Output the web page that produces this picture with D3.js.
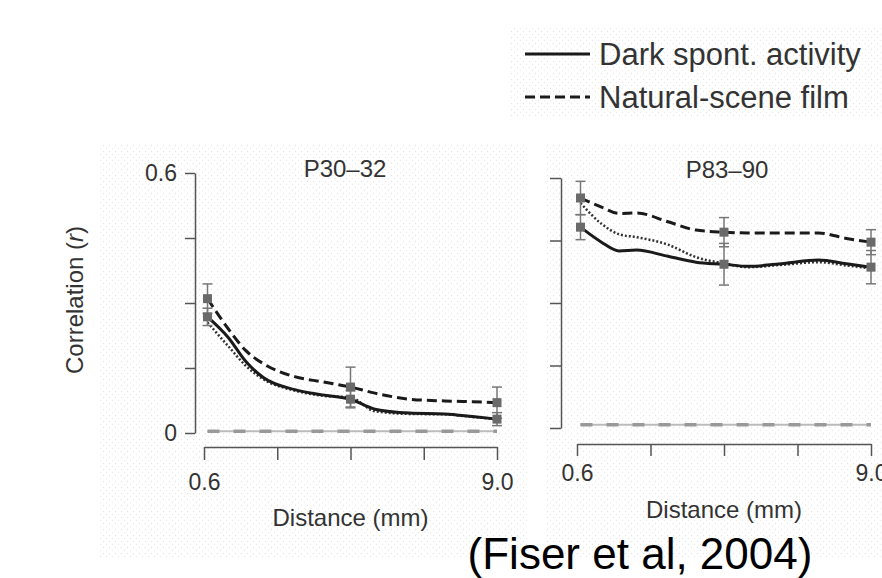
<!DOCTYPE html>
<html>
<head>
<meta charset="utf-8">
<script src="https://cdn.jsdelivr.net/npm/d3@7"></script>
<style>
  html, body { margin: 0; padding: 0; background: #fff; }
  svg { display: block; font-family: "Liberation Sans", Arial, Helvetica, sans-serif; }
</style>
</head>
<body>
<svg id="chart" width="882" height="578"></svg>
<script>
// distances (mm) where the curves were read
const distances = [0.7, 1.3, 1.8, 2.3, 3.2, 4.0, 4.8, 5.5, 6.5, 7.5, 8.3, 9.0];

// P30-32
const youngFilm  = [0.31, 0.24, 0.19, 0.16, 0.13, 0.118, 0.106, 0.092, 0.078, 0.074, 0.072, 0.07];
const youngDark  = [0.268, 0.22, 0.165, 0.128, 0.1, 0.088, 0.078, 0.055, 0.046, 0.044, 0.038, 0.032];
const youngDots  = [0.255, 0.2, 0.155, 0.124, 0.098, 0.086, 0.082, 0.05, 0.044, 0.043, 0.037, 0.032];
const youngBase  = 0.004;

// P83-90
const adultFilm  = [0.552, 0.53, 0.515, 0.516, 0.495, 0.475, 0.47, 0.468, 0.468, 0.468, 0.455, 0.446];
const adultDark  = [0.482, 0.446, 0.425, 0.427, 0.412, 0.398, 0.393, 0.388, 0.395, 0.403, 0.394, 0.386];
const adultDots  = [0.54, 0.49, 0.465, 0.458, 0.44, 0.41, 0.395, 0.386, 0.392, 0.398, 0.39, 0.383];
const adultBase  = 0.008;

// markers with error bars: [distance, value, error]
const youngFilmErr = [[0.7, 0.31, 0.034], [4.8, 0.106, 0.046], [9.0, 0.07, 0.036]];
const youngDarkErr = [[0.7, 0.268, 0.02], [4.8, 0.078, 0.02], [9.0, 0.032, 0.015]];
const adultFilmErr = [[0.7, 0.552, 0.04], [4.8, 0.47, 0.035], [9.0, 0.446, 0.03]];
const adultDarkErr = [[0.7, 0.482, 0.03], [4.8, 0.393, 0.05], [9.0, 0.386, 0.04]];

const xTicks = [0.6, 2.7, 4.8, 6.9, 9.0];
const yTicks = [0, 0.15, 0.3, 0.45, 0.6];

const svg = d3.select("#chart");

// faint halftone dots behind the panels
const defs = svg.append("defs");
const pat = defs.append("pattern").attr("id", "dots")
  .attr("width", 6).attr("height", 6).attr("patternUnits", "userSpaceOnUse");
pat.append("circle").attr("cx", 1.5).attr("cy", 1.5).attr("r", 0.7).attr("fill", "#e4e4e4");
pat.append("circle").attr("cx", 4.5).attr("cy", 4.5).attr("r", 0.7).attr("fill", "#eaeaea");
svg.append("rect").attr("x", 100).attr("y", 143).attr("width", 428).attr("height", 415).attr("fill", "url(#dots)");
svg.append("rect").attr("x", 545).attr("y", 143).attr("width", 337).attr("height", 415).attr("fill", "url(#dots)");
svg.append("rect").attr("x", 510).attr("y", 28).attr("width", 372).attr("height", 90).attr("fill", "url(#dots)");

const textCol = "#333";
const axisCol = "#555";

function drawPanel(opt) {
  const x = d3.scaleLinear().domain([0.6, 9.0]).range([opt.x0, opt.x1]);
  const y = d3.scaleLinear().domain([0, 0.6]).range([opt.y0, opt.y1]);
  const g = svg.append("g");

  // y axis
  const yAxis = d3.axisLeft(y).tickValues(yTicks).tickSize(opt.ytick).tickSizeOuter(0)
    .tickFormat(d => opt.yLabels ? (d === 0 ? "0" : d === 0.6 ? "0.6" : "") : "");
  const ya = g.append("g").attr("transform", `translate(${opt.yAxisX},0)`).call(yAxis);
  ya.select(".domain").attr("stroke", axisCol).attr("stroke-width", 1.5);
  ya.selectAll(".tick line").attr("stroke", axisCol).attr("stroke-width", 1.5);
  ya.selectAll(".tick text").attr("fill", textCol).style("font-size", "23px").attr("x", -opt.ytick - 8);

  // x axis
  const xAxis = d3.axisBottom(x).tickValues(xTicks).tickSize(opt.xtick).tickSizeOuter(0)
    .tickFormat(d => (d === 0.6 || d === 9.0) ? d.toFixed(1) : "");
  const xa = g.append("g").attr("transform", `translate(0,${opt.xAxisY})`).call(xAxis);
  xa.select(".domain").attr("stroke", axisCol).attr("stroke-width", 1.5);
  xa.selectAll(".tick line").attr("stroke", axisCol).attr("stroke-width", 1.5);
  xa.selectAll(".tick text").attr("fill", textCol).style("font-size", "23px").attr("y", opt.xLabelDy);

  g.append("text").attr("x", (opt.x0 + opt.x1) / 2).attr("y", opt.xTitleY)
    .attr("text-anchor", "middle").attr("fill", textCol).style("font-size", "24px")
    .text("Distance (mm)");
  g.append("text").attr("x", opt.titleX).attr("y", opt.titleY)
    .attr("text-anchor", "middle").attr("fill", textCol).style("font-size", "24px")
    .text(opt.title);

  // near-zero control lines
  const base = d3.line().x(d => x(d)).y(() => y(opt.base));
  g.append("path").attr("d", base(distances))
    .attr("fill", "none").attr("stroke", "#bbb").attr("stroke-width", 2);
  g.append("path").attr("d", base(distances))
    .attr("fill", "none").attr("stroke", "#999").attr("stroke-width", 3.5).attr("stroke-dasharray", "12 14");

  const line = d3.line().curve(d3.curveMonotoneX).x((d, i) => x(distances[i])).y(d => y(d));
  g.append("path").attr("d", line(opt.dots)).attr("fill", "none")
    .attr("stroke", "#333").attr("stroke-width", 2.5).attr("stroke-dasharray", "2 2");
  g.append("path").attr("d", line(opt.dark)).attr("fill", "none")
    .attr("stroke", "#1a1a1a").attr("stroke-width", 3);
  g.append("path").attr("d", line(opt.film)).attr("fill", "none")
    .attr("stroke", "#1a1a1a").attr("stroke-width", 3).attr("stroke-dasharray", "10 5");

  // markers + error bars
  const errs = opt.filmErr.concat(opt.darkErr);
  const eg = g.append("g").attr("stroke", "#777").attr("stroke-width", 1.5);
  errs.forEach(([d, v, e]) => {
    eg.append("line").attr("x1", x(d)).attr("x2", x(d)).attr("y1", y(v + e)).attr("y2", y(v - e));
    eg.append("line").attr("x1", x(d) - 5).attr("x2", x(d) + 5).attr("y1", y(v + e)).attr("y2", y(v + e));
    eg.append("line").attr("x1", x(d) - 5).attr("x2", x(d) + 5).attr("y1", y(v - e)).attr("y2", y(v - e));
  });
  g.selectAll("rect.mk").data(errs).enter().append("rect").attr("class", "mk")
    .attr("x", d => x(d[0]) - 4.5).attr("y", d => y(d[1]) - 4.5)
    .attr("width", 9).attr("height", 9).attr("fill", "#6a6a6a");
}

drawPanel({
  x0: 204, x1: 497, y0: 433, y1: 173, yAxisX: 195, xAxisY: 447,
  ytick: 10, xtick: 13, yLabels: true, xTitleY: 526, xLabelDy: 27,
  title: "P30\u201332", titleX: 345, titleY: 177,
  film: youngFilm, dark: youngDark, dots: youngDots, base: youngBase,
  filmErr: youngFilmErr, darkErr: youngDarkErr
});

drawPanel({
  x0: 577, x1: 871, y0: 428, y1: 178, yAxisX: 561, xAxisY: 444,
  ytick: 11, xtick: 12, yLabels: false, xTitleY: 518, xLabelDy: 21,
  title: "P83\u201390", titleX: 727, titleY: 178,
  film: adultFilm, dark: adultDark, dots: adultDots, base: adultBase,
  filmErr: adultFilmErr, darkErr: adultDarkErr
});

// y title
svg.append("text").attr("transform", "translate(83,300) rotate(-90)")
  .attr("text-anchor", "middle").attr("fill", textCol).style("font-size", "24px")
  .html('Correlation (<tspan font-style="italic">r</tspan>)');

// legend
const legendItems = ["Dark spont. activity", "Natural-scene film"];
const legendDash = [null, "10 5"];
const lg = svg.append("g");
legendItems.forEach((t, i) => {
  const yy = 54 + i * 43;
  lg.append("line").attr("x1", 525).attr("x2", 590).attr("y1", yy).attr("y2", yy)
    .attr("stroke", "#1a1a1a").attr("stroke-width", 3).attr("stroke-dasharray", legendDash[i]);
  lg.append("text").attr("x", 599).attr("y", yy + 11).attr("fill", textCol)
    .style("font-size", "31px").text(t);
});

// citation
svg.append("text").attr("x", 640).attr("y", 569).attr("text-anchor", "middle")
  .attr("fill", "#000").style("font-size", "44px").text("(Fiser et al, 2004)");
</script>
</body>
</html>
